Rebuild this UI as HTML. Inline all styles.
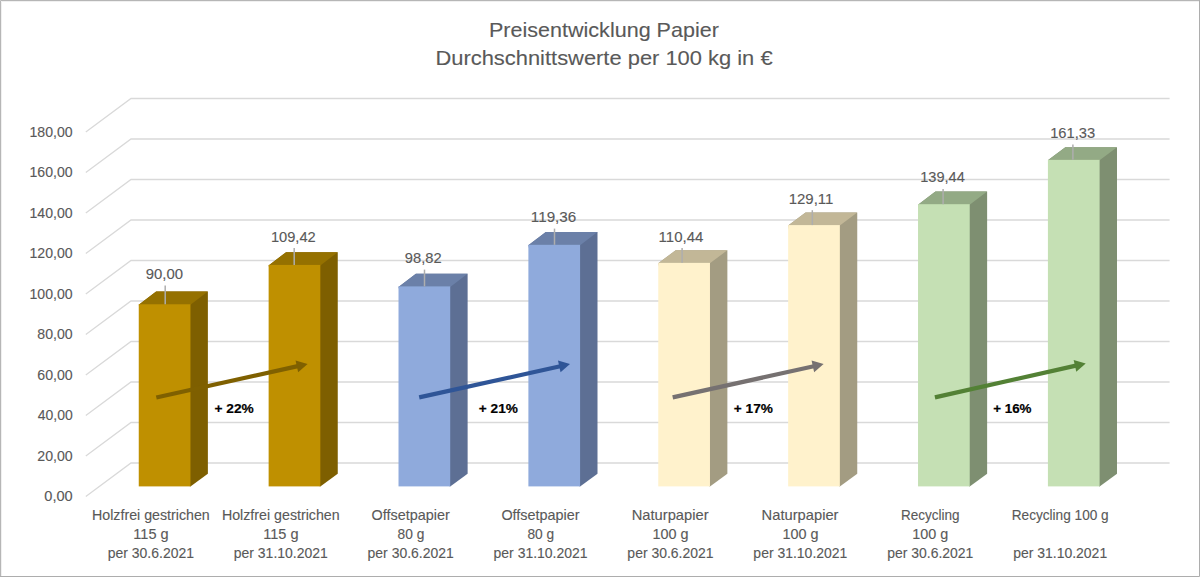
<!DOCTYPE html>
<html><head><meta charset="utf-8"><style>
html,body{margin:0;padding:0;background:#fff;}
body{width:1200px;height:577px;overflow:hidden;position:relative;}
svg{position:absolute;left:0;top:0;}
text{font-family:"Liberation Sans",sans-serif;}
</style></head><body>
<svg width="1200" height="577" viewBox="0 0 1200 577">
<rect x="0" y="0" width="1200" height="577" fill="#FFFFFF"/>
<g fill="none" stroke="#D9D9D9" stroke-width="1.3"><polyline points="85.8,496.40 131.0,463.00 1169.6,463.00"/><polyline points="85.8,455.90 131.0,422.50 1169.6,422.50"/><polyline points="85.8,415.40 131.0,382.00 1169.6,382.00"/><polyline points="85.8,374.90 131.0,341.50 1169.6,341.50"/><polyline points="85.8,334.40 131.0,301.00 1169.6,301.00"/><polyline points="85.8,293.90 131.0,260.50 1169.6,260.50"/><polyline points="85.8,253.40 131.0,220.00 1169.6,220.00"/><polyline points="85.8,212.90 131.0,179.50 1169.6,179.50"/><polyline points="85.8,172.40 131.0,139.00 1169.6,139.00"/><polyline points="85.8,131.90 131.0,98.50 1169.6,98.50"/></g>
<text x="44.32" y="501.40" font-size="14" fill="#595959" stroke="#595959" stroke-width="0.12" textLength="28.41" lengthAdjust="spacingAndGlyphs">0,00</text>
<text x="37.29" y="460.90" font-size="14" fill="#595959" stroke="#595959" stroke-width="0.12" textLength="35.44" lengthAdjust="spacingAndGlyphs">20,00</text>
<text x="37.72" y="420.40" font-size="14" fill="#595959" stroke="#595959" stroke-width="0.12" textLength="35.00" lengthAdjust="spacingAndGlyphs">40,00</text>
<text x="37.29" y="379.90" font-size="14" fill="#595959" stroke="#595959" stroke-width="0.12" textLength="35.44" lengthAdjust="spacingAndGlyphs">60,00</text>
<text x="37.36" y="339.40" font-size="14" fill="#595959" stroke="#595959" stroke-width="0.12" textLength="35.37" lengthAdjust="spacingAndGlyphs">80,00</text>
<text x="29.54" y="298.90" font-size="14" fill="#595959" stroke="#595959" stroke-width="0.12" textLength="43.13" lengthAdjust="spacingAndGlyphs">100,00</text>
<text x="29.54" y="258.40" font-size="14" fill="#595959" stroke="#595959" stroke-width="0.12" textLength="43.13" lengthAdjust="spacingAndGlyphs">120,00</text>
<text x="29.54" y="217.90" font-size="14" fill="#595959" stroke="#595959" stroke-width="0.12" textLength="43.13" lengthAdjust="spacingAndGlyphs">140,00</text>
<text x="29.54" y="177.40" font-size="14" fill="#595959" stroke="#595959" stroke-width="0.12" textLength="43.13" lengthAdjust="spacingAndGlyphs">160,00</text>
<text x="29.54" y="136.90" font-size="14" fill="#595959" stroke="#595959" stroke-width="0.12" textLength="43.13" lengthAdjust="spacingAndGlyphs">180,00</text>
<polygon points="138.75,304.74 156.15,291.54 207.85,291.54 207.85,473.70 190.45,486.40 189.95,486.40" fill="#7E5F00"/><polygon points="138.75,304.74 156.15,291.54 207.85,291.54 190.45,304.74" fill="#957100"/><rect x="138.75" y="304.24" width="51.7" height="182.16" fill="#BF9000"/><polygon points="268.63,265.43 286.03,252.23 337.73,252.23 337.73,473.70 320.33,486.40 319.83,486.40" fill="#7E5F00"/><polygon points="268.63,265.43 286.03,252.23 337.73,252.23 320.33,265.43" fill="#957100"/><rect x="268.63" y="264.93" width="51.7" height="221.47" fill="#BF9000"/><polygon points="398.51,286.89 415.91,273.69 467.61,273.69 467.61,473.70 450.21,486.40 449.71,486.40" fill="#5D6F94"/><polygon points="398.51,286.89 415.91,273.69 467.61,273.69 450.21,286.89" fill="#6B80A8"/><rect x="398.51" y="286.39" width="51.7" height="200.01" fill="#8FAADC"/><polygon points="528.39,245.32 545.79,232.12 597.49,232.12 597.49,473.70 580.09,486.40 579.59,486.40" fill="#5D6F94"/><polygon points="528.39,245.32 545.79,232.12 597.49,232.12 580.09,245.32" fill="#6B80A8"/><rect x="528.39" y="244.82" width="51.7" height="241.58" fill="#8FAADC"/><polygon points="658.27,263.37 675.67,250.17 727.37,250.17 727.37,473.70 709.97,486.40 709.47,486.40" fill="#A39C82"/><polygon points="658.27,263.37 675.67,250.17 727.37,250.17 709.97,263.37" fill="#C2B797"/><rect x="658.27" y="262.87" width="51.7" height="223.53" fill="#FFF2CC"/><polygon points="788.15,225.58 805.55,212.38 857.25,212.38 857.25,473.70 839.85,486.40 839.35,486.40" fill="#A39C82"/><polygon points="788.15,225.58 805.55,212.38 857.25,212.38 839.85,225.58" fill="#C2B797"/><rect x="788.15" y="225.08" width="51.7" height="261.32" fill="#FFF2CC"/><polygon points="918.03,204.67 935.43,191.47 987.13,191.47 987.13,473.70 969.73,486.40 969.23,486.40" fill="#7E8F71"/><polygon points="918.03,204.67 935.43,191.47 987.13,191.47 969.73,204.67" fill="#93AA85"/><rect x="918.03" y="204.17" width="51.7" height="282.23" fill="#C5E0B4"/><polygon points="1047.91,160.37 1065.31,147.17 1117.01,147.17 1117.01,473.70 1099.61,486.40 1099.11,486.40" fill="#7E8F71"/><polygon points="1047.91,160.37 1065.31,147.17 1117.01,147.17 1099.61,160.37" fill="#93AA85"/><rect x="1047.91" y="159.87" width="51.7" height="326.53" fill="#C5E0B4"/>
<line x1="165.2" y1="285.6" x2="165.2" y2="304.24" stroke="#AEAEAE" stroke-width="1.5"/>
<text x="145.83" y="278.60" font-size="13.9" fill="#595959" stroke="#595959" stroke-width="0.12" textLength="37.23" lengthAdjust="spacingAndGlyphs">90,00</text>
<line x1="294.2" y1="248" x2="294.2" y2="264.93" stroke="#AEAEAE" stroke-width="1.5"/>
<text x="270.90" y="241.60" font-size="13.9" fill="#595959" stroke="#595959" stroke-width="0.12" textLength="44.81" lengthAdjust="spacingAndGlyphs">109,42</text>
<line x1="424.5" y1="269.6" x2="424.5" y2="286.39" stroke="#AEAEAE" stroke-width="1.5"/>
<text x="404.84" y="262.70" font-size="13.9" fill="#595959" stroke="#595959" stroke-width="0.12" textLength="36.73" lengthAdjust="spacingAndGlyphs">98,82</text>
<line x1="554.5" y1="228.6" x2="554.5" y2="244.82" stroke="#AEAEAE" stroke-width="1.5"/>
<text x="530.86" y="221.60" font-size="13.9" fill="#595959" stroke="#595959" stroke-width="0.12" textLength="45.44" lengthAdjust="spacingAndGlyphs">119,36</text>
<line x1="682.1" y1="248" x2="682.1" y2="262.87" stroke="#AEAEAE" stroke-width="1.5"/>
<text x="658.63" y="241.60" font-size="13.9" fill="#595959" stroke="#595959" stroke-width="0.12" textLength="44.71" lengthAdjust="spacingAndGlyphs">110,44</text>
<line x1="812.3" y1="210.2" x2="812.3" y2="225.08" stroke="#AEAEAE" stroke-width="1.5"/>
<text x="788.68" y="203.60" font-size="13.9" fill="#595959" stroke="#595959" stroke-width="0.12" textLength="44.69" lengthAdjust="spacingAndGlyphs">129,11</text>
<line x1="943.1" y1="189.1" x2="943.1" y2="204.17" stroke="#AEAEAE" stroke-width="1.5"/>
<text x="920.21" y="182.30" font-size="13.9" fill="#595959" stroke="#595959" stroke-width="0.12" textLength="44.61" lengthAdjust="spacingAndGlyphs">139,44</text>
<line x1="1072.9" y1="144.5" x2="1072.9" y2="159.87" stroke="#AEAEAE" stroke-width="1.5"/>
<text x="1050.20" y="138.00" font-size="13.9" fill="#595959" stroke="#595959" stroke-width="0.12" textLength="44.97" lengthAdjust="spacingAndGlyphs">161,33</text>
<line x1="156.3" y1="397.5" x2="297.84" y2="366.16" stroke="#7F6000" stroke-width="4.2"/>
<polygon points="307.6,364.0 298.16,372.24 295.56,360.52" fill="#7F6000"/>
<line x1="419.2" y1="397.4" x2="560.24" y2="366.26" stroke="#2F5597" stroke-width="4.2"/>
<polygon points="570.0,364.1 560.55,372.33 557.97,360.61" fill="#2F5597"/>
<line x1="672.7" y1="397.4" x2="813.83" y2="366.25" stroke="#767171" stroke-width="4.2"/>
<polygon points="823.6,364.1 814.15,372.33 811.57,360.61" fill="#767171"/>
<line x1="934.9" y1="397.4" x2="1075.94" y2="365.60" stroke="#538135" stroke-width="4.2"/>
<polygon points="1085.7,363.4 1076.29,371.67 1073.65,359.97" fill="#538135"/>
<text x="214.45" y="412.90" font-size="13.5" fill="#000000" stroke="#000000" stroke-width="0.2" font-weight="bold" textLength="39.27" lengthAdjust="spacingAndGlyphs">+ 22%</text>
<text x="478.85" y="413.10" font-size="13.5" fill="#000000" stroke="#000000" stroke-width="0.2" font-weight="bold" textLength="39.06" lengthAdjust="spacingAndGlyphs">+ 21%</text>
<text x="733.85" y="413.10" font-size="13.5" fill="#000000" stroke="#000000" stroke-width="0.2" font-weight="bold" textLength="39.06" lengthAdjust="spacingAndGlyphs">+ 17%</text>
<text x="993.16" y="413.10" font-size="13.5" fill="#000000" stroke="#000000" stroke-width="0.2" font-weight="bold" textLength="38.35" lengthAdjust="spacingAndGlyphs">+ 16%</text>
<text x="92.01" y="520.30" font-size="13.9" fill="#595959" stroke="#595959" stroke-width="0.12" textLength="117.78" lengthAdjust="spacingAndGlyphs">Holzfrei gestrichen</text>
<text x="133.31" y="539.20" font-size="13.9" fill="#595959" stroke="#595959" stroke-width="0.12" textLength="35.28" lengthAdjust="spacingAndGlyphs">115 g</text>
<text x="107.79" y="557.90" font-size="13.9" fill="#595959" stroke="#595959" stroke-width="0.12" textLength="86.16" lengthAdjust="spacingAndGlyphs">per 30.6.2021</text>
<text x="221.91" y="520.30" font-size="13.9" fill="#595959" stroke="#595959" stroke-width="0.12" textLength="117.78" lengthAdjust="spacingAndGlyphs">Holzfrei gestrichen</text>
<text x="263.21" y="539.20" font-size="13.9" fill="#595959" stroke="#595959" stroke-width="0.12" textLength="35.28" lengthAdjust="spacingAndGlyphs">115 g</text>
<text x="233.79" y="557.90" font-size="13.9" fill="#595959" stroke="#595959" stroke-width="0.12" textLength="93.98" lengthAdjust="spacingAndGlyphs">per 31.10.2021</text>
<text x="371.50" y="520.30" font-size="13.9" fill="#595959" stroke="#595959" stroke-width="0.12" textLength="78.23" lengthAdjust="spacingAndGlyphs">Offsetpapier</text>
<text x="397.58" y="539.20" font-size="13.9" fill="#595959" stroke="#595959" stroke-width="0.12" textLength="26.73" lengthAdjust="spacingAndGlyphs">80 g</text>
<text x="367.59" y="557.90" font-size="13.9" fill="#595959" stroke="#595959" stroke-width="0.12" textLength="86.16" lengthAdjust="spacingAndGlyphs">per 30.6.2021</text>
<text x="501.40" y="520.30" font-size="13.9" fill="#595959" stroke="#595959" stroke-width="0.12" textLength="78.23" lengthAdjust="spacingAndGlyphs">Offsetpapier</text>
<text x="527.48" y="539.20" font-size="13.9" fill="#595959" stroke="#595959" stroke-width="0.12" textLength="26.73" lengthAdjust="spacingAndGlyphs">80 g</text>
<text x="493.59" y="557.90" font-size="13.9" fill="#595959" stroke="#595959" stroke-width="0.12" textLength="93.98" lengthAdjust="spacingAndGlyphs">per 31.10.2021</text>
<text x="631.72" y="520.30" font-size="13.9" fill="#595959" stroke="#595959" stroke-width="0.12" textLength="76.88" lengthAdjust="spacingAndGlyphs">Naturpapier</text>
<text x="652.57" y="539.20" font-size="13.9" fill="#595959" stroke="#595959" stroke-width="0.12" textLength="35.95" lengthAdjust="spacingAndGlyphs">100 g</text>
<text x="627.39" y="557.90" font-size="13.9" fill="#595959" stroke="#595959" stroke-width="0.12" textLength="86.16" lengthAdjust="spacingAndGlyphs">per 30.6.2021</text>
<text x="761.62" y="520.30" font-size="13.9" fill="#595959" stroke="#595959" stroke-width="0.12" textLength="76.88" lengthAdjust="spacingAndGlyphs">Naturpapier</text>
<text x="782.47" y="539.20" font-size="13.9" fill="#595959" stroke="#595959" stroke-width="0.12" textLength="35.95" lengthAdjust="spacingAndGlyphs">100 g</text>
<text x="753.39" y="557.90" font-size="13.9" fill="#595959" stroke="#595959" stroke-width="0.12" textLength="93.98" lengthAdjust="spacingAndGlyphs">per 31.10.2021</text>
<text x="900.97" y="520.30" font-size="13.9" fill="#595959" stroke="#595959" stroke-width="0.12" textLength="58.66" lengthAdjust="spacingAndGlyphs">Recycling</text>
<text x="912.37" y="539.20" font-size="13.9" fill="#595959" stroke="#595959" stroke-width="0.12" textLength="35.95" lengthAdjust="spacingAndGlyphs">100 g</text>
<text x="887.19" y="557.90" font-size="13.9" fill="#595959" stroke="#595959" stroke-width="0.12" textLength="86.16" lengthAdjust="spacingAndGlyphs">per 30.6.2021</text>
<text x="1011.71" y="520.30" font-size="13.9" fill="#595959" stroke="#595959" stroke-width="0.12" textLength="96.98" lengthAdjust="spacingAndGlyphs">Recycling 100 g</text>
<text x="1013.19" y="557.90" font-size="13.9" fill="#595959" stroke="#595959" stroke-width="0.12" textLength="93.98" lengthAdjust="spacingAndGlyphs">per 31.10.2021</text>
<text x="488.98" y="36.70" font-size="21" fill="#595959" stroke="#595959" stroke-width="0.12" textLength="229.90" lengthAdjust="spacingAndGlyphs">Preisentwicklung Papier</text>
<text x="435.45" y="64.75" font-size="21" fill="#595959" stroke="#595959" stroke-width="0.12" textLength="337.12" lengthAdjust="spacingAndGlyphs">Durchschnittswerte per 100 kg in €</text>
<path d="M1.5,577 V1.5 H1200" fill="none" stroke="#F0F0F0" stroke-width="1"/>
<path d="M0.5,577 V0.5 H1200" fill="none" stroke="#B6B6B6" stroke-width="1"/>
<path d="M1199.5,0 V576.5 H0" fill="none" stroke="#ADADAD" stroke-width="1"/>
</svg>
</body></html>
